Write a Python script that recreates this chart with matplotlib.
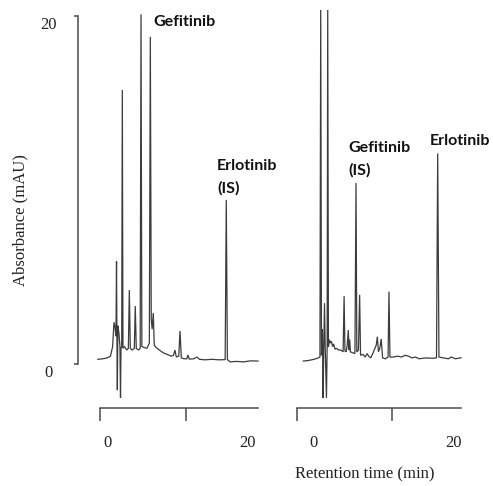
import matplotlib
matplotlib.use("Agg")
import matplotlib.pyplot as plt
from matplotlib.transforms import ScaledTranslation

# ---------------- data ----------------
# Left chromatogram: retention time (min) and absorbance (mAU)
left_time = [-1.3, -0.6, 0.0, 0.5, 0.8, 1.0, 1.15, 1.28, 1.36, 1.42, 1.48, 1.55, 1.7, 1.85,
             1.93, 2.0, 2.1, 2.19, 2.28, 2.5, 2.8, 3.05, 3.19, 3.33, 3.6, 3.9, 4.04, 4.18,
             4.5, 4.74, 4.86, 4.98, 5.3, 5.7, 6.05, 6.19, 6.32, 6.45, 6.61, 6.75, 7.0, 7.5,
             8.0, 8.6, 9.2, 9.5, 9.71, 9.9, 10.25, 10.43, 10.62, 11.0, 11.4, 11.57, 11.75,
             12.4, 12.86, 13.2, 14.0, 15.0, 16.0, 16.88, 17.04, 17.2, 17.6, 18.5, 19.5,
             20.5, 21.57]
left_abs = [0.27, 0.30, 0.35, 0.45, 1.0, 2.4, 2.1, 1.6, 5.9, 1.3, -1.5, 2.2, 1.8, 1.0,
            -1.95, 0.9, 1.0, 15.75, 0.9, 1.0, 0.8, 0.9, 4.25, 0.9, 0.8, 0.9, 3.33, 0.9,
            0.8, 0.9, 20.1, 1.0, 0.95, 0.9, 1.2, 18.8, 2.6, 2.0, 2.93, 1.1, 0.95, 0.8,
            0.65, 0.55, 0.45, 0.5, 0.8, 0.4, 0.45, 1.9, 0.35, 0.3, 0.3, 0.52, 0.28,
            0.3, 0.40, 0.27, 0.24, 0.27, 0.24, 0.25, 9.43, 0.25, 0.12, 0.15, 0.12,
            0.18, 0.17]

# Right chromatogram
right_time = [-1.53, -0.8, 0.0, 0.5, 0.85, 0.96, 1.07, 1.2, 1.3, 1.4, 1.5, 1.6, 1.78, 1.88,
              1.96, 2.06, 2.2, 2.35, 2.5, 2.65, 2.8, 3.0, 3.2, 3.5, 3.85, 4.16, 4.3, 4.42,
              4.6, 4.75, 4.9, 5.0, 5.1, 5.2, 5.5, 5.85, 6.0, 6.12, 6.35, 6.52, 6.65, 7.0,
              7.3, 7.6, 7.8, 8.1, 8.4, 8.6, 8.9, 9.05, 9.2, 9.4, 9.6, 9.8, 10.2, 10.58,
              10.71, 10.85, 11.3, 12.0, 12.5, 13.0, 13.5, 14.0, 14.5, 15.0, 16.0, 17.0,
              17.5, 17.67, 17.85, 18.5, 19.2, 19.6, 20.2, 21.0]
right_abs = [0.17, 0.20, 0.27, 0.33, 0.40, 20.6, 0.5, 2.0, -1.95, 1.0, 3.5, 1.0, -1.95, 1.0,
             20.6, 1.0, 1.4, 1.2, 1.3, 1.0, 1.15, 0.85, 0.9, 0.8, 0.8, 0.7, 3.9, 0.75,
             0.7, 1.1, 1.95, 0.8, 1.4, 0.7, 0.65, 0.6, 10.4, 0.7, 0.8, 3.97, 0.5, 0.55,
             0.4, 0.6, 0.45, 0.35, 0.6, 0.8, 1.1, 1.57, 0.7, 0.9, 1.44, 0.35, 0.3, 0.4,
             4.16, 0.4, 0.4, 0.45, 0.4, 0.5, 0.45, 0.35, 0.4, 0.3, 0.35, 0.33,
             0.35, 12.1, 0.4, 0.35, 0.3, 0.4, 0.3, 0.36]

y_ticks = [0, 20]
x_ticks = [0, 20]
ruler_ticks = [0, 10]

# peak annotations: (text, time, absorbance)
left_labels = [("Gefitinib", 6.57, 19.66), ("Erlotinib", 15.71, 11.38), ("(IS)", 15.71, 10.11)]
right_labels = [("Gefitinib", 4.86, 12.41), ("(IS)", 4.86, 11.15), ("Erlotinib", 16.57, 12.82)]

# ---------------- layout helpers ----------------
W, H = 493, 486
fig = plt.figure(figsize=(W / 100, H / 100), dpi=100)


def rect(x0, y0, x1, y1):
    return [x0 / W, 1 - y1 / H, (x1 - x0) / W, (y1 - y0) / H]


serif = ["Liberation Serif", "DejaVu Serif"]
sans = ["Lato", "Open Sans", "DejaVu Sans"]
line_col = "#3c3c3c"
axis_col = "#4a4a4a"

PX_Y = 17.4
ylim = ((364 - 410) / PX_Y, (364 - 10) / PX_Y)

ax_l = fig.add_axes(rect(78, 10, 262, 410))
ax_r = fig.add_axes(rect(296, 10, 470, 410))
ax_l.set_xlim((78 - 107) / 7, (262 - 107) / 7)
ax_r.set_xlim((296 - 314) / 7, (470 - 314) / 7)

for ax, t, a, labels in [(ax_l, left_time, left_abs, left_labels),
                         (ax_r, right_time, right_abs, right_labels)]:
    ax.plot(t, a, color=line_col, lw=0.9, solid_joinstyle="miter")
    ax.set_ylim(*ylim)
    for s in ["top", "right", "bottom", "left"]:
        ax.spines[s].set_visible(False)
    ax.set_facecolor("none")
    ax.set_xticks(x_ticks, labels=[str(v) for v in x_ticks])
    ax.tick_params(axis="x", length=0, pad=18, labelsize=12, colors="#222222")
    for lbl in ax.get_xticklabels():
        lbl.set_fontfamily(serif)
    for txt, tx, ty in labels:
        ax.text(tx, ty, txt, ha="left", va="center", fontsize=11.5,
                family=sans, fontweight="bold", color="#111111")

# left y-axis
ax_l.spines["left"].set_visible(True)
ax_l.spines["left"].set_bounds(0, 20)
ax_l.spines["left"].set_color(axis_col)
ax_l.spines["left"].set_linewidth(1.1)
ax_l.set_yticks(y_ticks, labels=[str(v) for v in y_ticks])
ax_l.tick_params(axis="y", length=3, width=1.1, color=axis_col, pad=18, labelsize=12,
                 labelcolor="#222222")
for lbl in ax_l.get_yticklabels():
    lbl.set_fontfamily(serif)
    lbl.set_horizontalalignment("center")
    lbl.set_transform(lbl.get_transform() + ScaledTranslation(0, -0.07, fig.dpi_scale_trans))
ax_r.set_yticks([])

# rulers (time axes) below each chromatogram
for (x0, x1, scale) in [(100, 258, 8.6), (297, 461, 9.5)]:
    axr = fig.add_axes(rect(x0, 398, x1, 408))
    axr.set_xlim(0, (x1 - x0) / scale)
    axr.set_facecolor("none")
    for s in ["top", "right", "left"]:
        axr.spines[s].set_visible(False)
    axr.spines["bottom"].set_color(axis_col)
    axr.spines["bottom"].set_linewidth(1.1)
    axr.set_yticks([])
    axr.set_xticks(ruler_ticks, labels=["", ""])
    axr.tick_params(axis="x", direction="out", length=9.5, width=1.1, color=axis_col)

fig.text(20 / W, 1 - 220 / H, "Absorbance (mAU)", rotation=90, ha="center", va="center",
         fontsize=12, family=serif, color="#222222")
fig.text(365 / W, 1 - 474 / H, "Retention time (min)", ha="center", va="center",
         fontsize=12, family=serif, color="#222222")

fig.savefig("out.png", dpi=100, facecolor="white")
